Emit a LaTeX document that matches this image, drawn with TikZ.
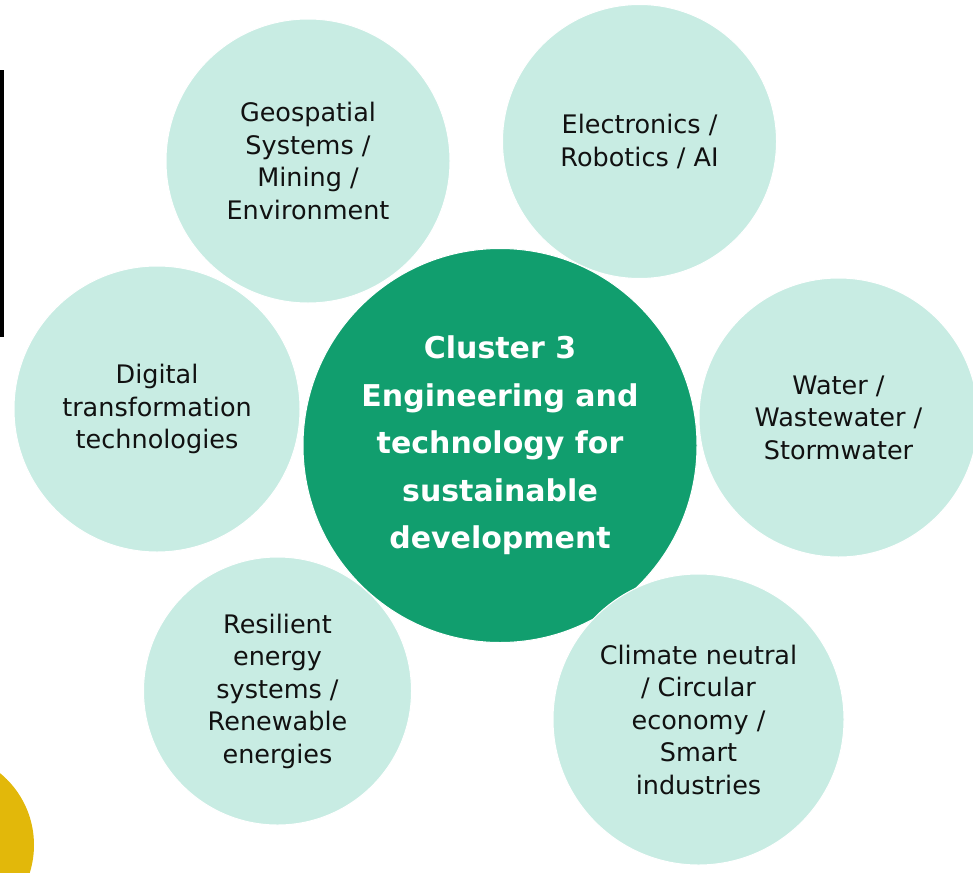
\documentclass[tikz,border=0pt]{standalone}
\usepackage{fontspec}
\setmainfont{DejaVu Sans}
\definecolor{mintFill}{HTML}{C8ECE3}
\definecolor{hubGreen}{HTML}{119E6E}
\definecolor{textDark}{HTML}{111111}
\definecolor{accentYellow}{HTML}{E2B80A}
\begin{document}
\begin{tikzpicture}[x=1pt,y=-1pt,
  topic/.style={circle, fill=mintFill, draw=white, line width=1pt, inner sep=0pt,
    align=center, text=textDark, font=\fontsize{25.5}{32.5}\selectfont},
  hub/.style={circle, fill=hubGreen, draw=white, line width=1pt, inner sep=0pt,
    align=center, text=white, font=\fontsize{30}{47.5}\selectfont\bfseries}]
\useasboundingbox (0,0) rectangle (973,872);
\clip (0,0) rectangle (973,872);
\fill[accentYellow] (-59,845) circle[radius=93];
\fill[black] (0,70) rectangle (4,337);
\node[topic, minimum size=284pt] (geo) at (308,161) {Geospatial\\Systems /\\Mining /\\Environment};
\node[topic, minimum size=274pt] (elec) at (639.5,141.5) {Electronics /\\Robotics / AI};
\node[topic, minimum size=286pt] (digi) at (157,409) {Digital\\transformation\\technologies};
\node[topic, minimum size=279pt] (water) at (838.5,417.5) {Water /\\Wastewater /\\Stormwater};
\node[topic, minimum size=268pt] (resil) at (277.5,691) {Resilient\\energy\\systems /\\Renewable\\energies};
\node[hub, minimum size=394pt] (hubnode) at (500,445.5) {Cluster 3\\Engineering and\\technology for\\sustainable\\development};
\node[topic, minimum size=291pt] (clim) at (698.5,719.5) {Climate neutral\\/ Circular\\economy /\\Smart\\industries};
\end{tikzpicture}
\end{document}
